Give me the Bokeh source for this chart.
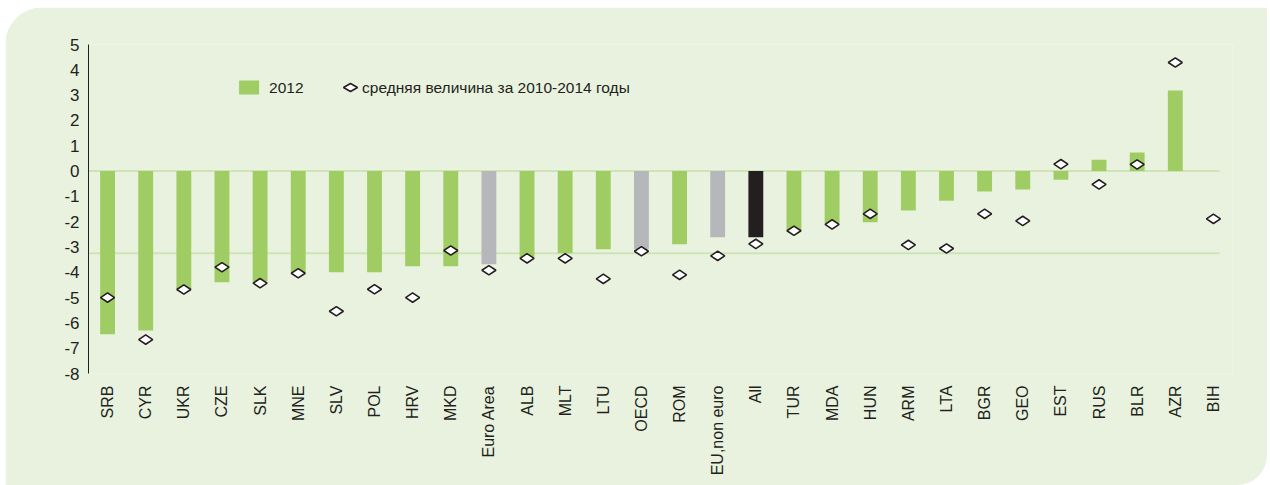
import math
from bokeh.plotting import figure
from bokeh.models import (ColumnDataSource, FactorRange, Range1d, FixedTicker,
                          BoxAnnotation, PolyAnnotation, Label)
from bokeh.embed import file_html
from bokeh.resources import INLINE

# ---------------- data ----------------
countries = ["SRB", "CYR", "UKR", "CZE", "SLK", "MNE", "SLV", "POL", "HRV", "MKD",
             "Euro Area", "ALB", "MLT", "LTU", "OECD", "ROM", "EU,non euro", "All",
             "TUR", "MDA", "HUN", "ARM", "LTA", "BGR", "GEO", "EST", "RUS", "BLR",
             "AZR", "BIH"]
values_2012 = [-6.45, -6.30, -4.66, -4.39, -4.36, -4.00, -4.00, -4.00, -3.76, -3.76,
               -3.68, -3.41, -3.25, -3.09, -3.09, -2.89, -2.62, -2.62,
               -2.35, -2.05, -2.02, -1.56, -1.17, -0.81, -0.73, -0.34, 0.45, 0.73,
               3.18, float("nan")]
avg_2010_2014 = [-5.00, -6.66, -4.68, -3.80, -4.43, -4.04, -5.54, -4.67, -5.00, -3.14,
                 -3.92, -3.45, -3.45, -4.26, -3.17, -4.10, -3.35, -2.88,
                 -2.36, -2.11, -1.69, -2.92, -3.06, -1.69, -1.97, 0.27, -0.53, 0.26,
                 4.29, -1.89]
aggregates = ["Euro Area", "OECD", "EU,non euro"]
total_group = ["All"]
y_ticks = list(range(-8, 6))
ref_levels = [0, -3.25]
legend_labels = ["2012", "средняя величина за 2010-2014 годы"]

# ---------------- style ----------------
FONT = "Liberation Sans, Arial, sans-serif"
PANEL = "#E9F2DE"
GREEN = "#A0CD63"
GREY = "#B6B7BB"
BLACK = "#231F20"
LINE = "#CFE4B6"
TEXT = "#231F20"

colors = [BLACK if c in total_group else GREY if c in aggregates else GREEN
          for c in countries]

src = ColumnDataSource(dict(x=countries, top=values_2012, avg=avg_2010_2014, color=colors))

p = figure(x_range=FactorRange(factors=countries, range_padding=0),
           y_range=Range1d(-8, 5),
           width=1262, height=478,
           output_backend="svg", toolbar_location=None,
           min_border_left=83, min_border_right=35,
           min_border_top=37, min_border_bottom=112,
           background_fill_color=PANEL, border_fill_color=PANEL,
           outline_line_color=None)
p.margin = (7, 0, 0, 5)
p.styles = {"border-top-left-radius": "38px", "border-bottom-right-radius": "30px",
            "overflow": "hidden"}

p.xgrid.visible = False
p.ygrid.visible = False

# reference lines
n = len(countries)
for lvl in ref_levels:
    p.segment(x0=[0], x1=[n - 0.34], y0=[lvl], y1=[lvl], line_color=LINE, line_width=2)

p.vbar(x="x", top="top", bottom=0, width=0.39, fill_color="color", line_color=None, source=src)
p.scatter(x="x", y="avg", marker="diamond", size=14, angle=math.pi / 2,
          fill_color="white", line_color=BLACK, line_width=1.6, source=src)

# axes
ya = p.yaxis[0]
ya.ticker = FixedTicker(ticks=y_ticks)
ya.major_label_overrides = {t: str(t) for t in y_ticks}
ya.axis_line_color = BLACK
ya.axis_line_width = 1
ya.major_tick_line_color = None
ya.minor_tick_line_color = None
ya.major_tick_out = 0
ya.major_tick_in = 0
ya.major_label_standoff = 9
ya.major_label_text_font = FONT
ya.major_label_text_font_size = "17px"
ya.major_label_text_color = TEXT

xa = p.xaxis[0]
xa.axis_line_color = None
xa.major_tick_line_color = None
xa.minor_tick_line_color = None
xa.major_tick_out = 0
xa.major_tick_in = 0
xa.major_label_orientation = math.pi / 2
xa.major_label_standoff = 12
xa.major_label_text_font = FONT
xa.major_label_text_font_size = "16px"
xa.major_label_text_color = TEXT

# legend (screen units relative to the frame)
p.add_layout(BoxAnnotation(left=150.6, right=170.6, bottom=279, top=293,
                           left_units="screen", right_units="screen",
                           bottom_units="screen", top_units="screen",
                           fill_color=GREEN, fill_alpha=1, line_color=None))
p.add_layout(Label(x=180.6, y=286, x_units="screen", y_units="screen", text=legend_labels[0],
                   text_font=FONT, text_font_size="15.5px", text_color=TEXT,
                   text_baseline="middle"))
p.add_layout(PolyAnnotation(xs=[255, 262, 269, 262], ys=[286, 290, 286, 282],
                            xs_units="screen", ys_units="screen",
                            fill_color="white", fill_alpha=1,
                            line_color=BLACK, line_alpha=1, line_width=1.6))
p.add_layout(Label(x=273.6, y=286, x_units="screen", y_units="screen", text=legend_labels[1],
                   text_font=FONT, text_font_size="15.5px", text_color=TEXT,
                   text_baseline="middle"))

open("out.html", "w").write(file_html(p, INLINE))
